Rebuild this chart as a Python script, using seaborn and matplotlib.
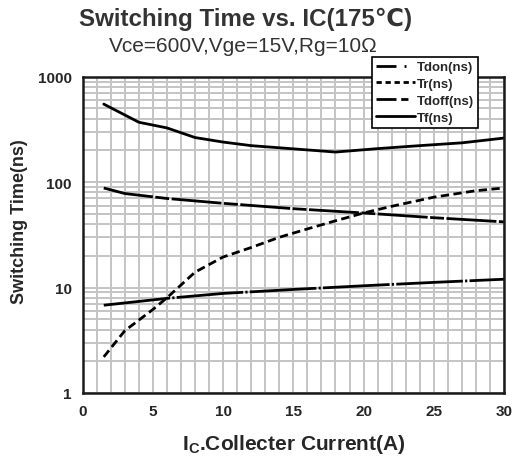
import matplotlib
matplotlib.use("Agg")
import matplotlib.pyplot as plt
import matplotlib.ticker as mticker
from matplotlib.lines import Line2D
import numpy as np
import pandas as pd
import seaborn as sns

# Switching times (ns) vs collector current (A)
ic_tdon = [1.5, 6, 10, 15, 20, 25, 30]
tdon = [6.8, 7.9, 8.8, 9.6, 10.4, 11.2, 12.0]

ic_tr = [1.5, 3, 5, 6, 8, 10, 12, 14, 16, 18, 20, 22, 25, 28, 30]
tr = [2.2, 3.9, 6.2, 8.0, 14.0, 19.5, 24.0, 30.0, 36.0, 43.0, 51.0, 59.0, 72.0, 83.0, 88.0]

ic_tdoff = [1.5, 3, 6, 10, 15, 20, 25, 30]
tdoff = [88, 78, 70, 63, 56, 51, 46, 42]

ic_tf = [1.5, 4, 6, 8, 10, 12, 15, 18, 21, 24, 27, 30]
tf = [550, 370, 327, 265, 240, 222, 207, 193, 208, 222, 236, 262]

series_names = ["Tdon(ns)", "Tr(ns)", "Tdoff(ns)", "Tf(ns)"]
x_ticks = [0, 5, 10, 15, 20, 25, 30]
y_ticks = [1, 10, 100, 1000]

sns.set_theme(style="white")
plt.rcParams["font.family"] = ["Liberation Sans", "DejaVu Sans"]

fig = plt.figure(figsize=(5.15, 4.6), dpi=100)
ax = fig.add_axes([0.1606, 0.1435, 0.818, 0.6875])

# dash patterns for the curves (long strokes, short breaks)
curve_styles = {
    "Tdon(ns)": (0, (24, 0.8, 0.8, 0.8)),
    "Tr(ns)": (0, (3.0, 1.6)),
    "Tdoff(ns)": (0, (18, 0.9, 5, 0.9)),
    "Tf(ns)": "-",
}
# dash patterns for the legend keys
key_styles = {
    "Tdon(ns)": (0, (7.2, 2.9, 0.7, 10)),
    "Tr(ns)": (0, (1.9, 1.35)),
    "Tdoff(ns)": (0, (7.2, 1.7, 2.6, 10)),
    "Tf(ns)": "-",
}
data = [(ic_tdon, tdon), (ic_tr, tr), (ic_tdoff, tdoff), (ic_tf, tf)]
for name, (xs, ys) in zip(series_names, data):
    df = pd.DataFrame({"Ic": xs, "t": ys})
    sns.lineplot(data=df, x="Ic", y="t", ax=ax, color="black", lw=2.0,
                 linestyle=curve_styles[name], legend=False)

ax.set_yscale("log")
ax.set_xlim(0, 30)
ax.set_ylim(1, 1000)
ax.set_xticks(x_ticks)
ax.set_yticks(y_ticks)
ax.yaxis.set_major_formatter(mticker.FixedFormatter([str(v) for v in y_ticks]))
ax.yaxis.set_minor_locator(mticker.LogLocator(base=10, subs=np.arange(2, 10)))
ax.yaxis.set_minor_formatter(mticker.NullFormatter())
ax.xaxis.set_minor_locator(mticker.MultipleLocator(1))
ax.grid(True, which="both", color="#c4c4c4", lw=1.4)
ax.set_axisbelow(True)
ax.tick_params(which="both", length=0)
ax.tick_params(axis="both", labelsize=11, pad=8)
for lab in ax.get_xticklabels() + ax.get_yticklabels():
    lab.set_fontweight("bold")
for sp in ax.spines.values():
    sp.set_color("#1a1a1a")
    sp.set_linewidth(1.8)

ax.set_xlabel(r"I$_\mathregular{C}$.Collecter Current(A)", fontsize=15,
              fontweight="bold", labelpad=10)
ax.set_ylabel("Switching Time(ns)", fontsize=13, fontweight="bold")
ax.yaxis.set_label_coords(-0.13, 0.544)

fig.text(0.476, 0.958, "Switching Time vs. IC(175\u2103)", ha="center", va="center",
         fontsize=17.4, fontweight="bold", color="#333333")
fig.text(0.473, 0.899, "Vce=600V,Vge=15V,Rg=10\u03a9", ha="center", va="center",
         fontsize=15, color="#333333")

handles = [Line2D([], [], color="black", lw=2.0, linestyle=key_styles[n])
           for n in series_names]
leg = ax.legend(handles, series_names, loc="upper right",
                bbox_to_anchor=(0.929, 0.874), bbox_transform=fig.transFigure,
                frameon=True, fancybox=False, framealpha=1, edgecolor="black",
                fontsize=9.5, handlelength=2.95, handletextpad=0.2, borderpad=0.3,
                labelspacing=0.35, borderaxespad=0)
leg.get_frame().set_linewidth(1.2)
for t in leg.get_texts():
    t.set_fontweight("bold")

fig.savefig("out.png", dpi=100)
